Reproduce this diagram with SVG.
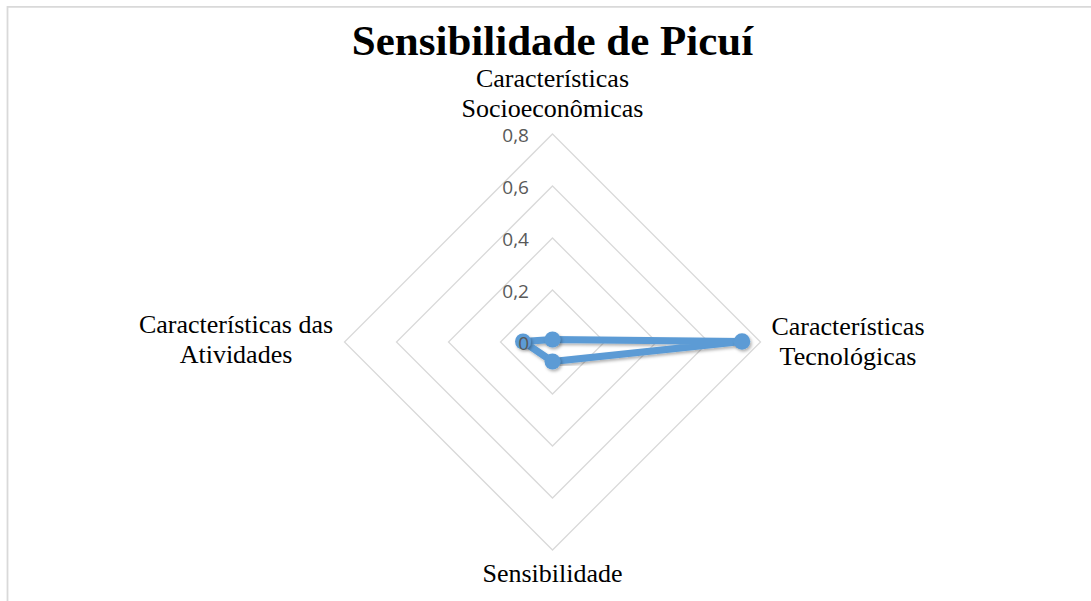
<svg xmlns="http://www.w3.org/2000/svg" width="1091" height="601" viewBox="0 0 1091 601">
<style>
.grid{fill:none;stroke:#D9D9D9;stroke-width:1.3}
.frame{fill:none;stroke:#D9D9D9;stroke-width:1.8}
.title{font-family:"Liberation Serif","Times New Roman",serif;font-weight:bold;font-size:43px;fill:#000;text-anchor:middle}
.cat{font-family:"Liberation Serif","Times New Roman",serif;font-size:26px;fill:#000;text-anchor:middle}
.tick{font-family:"Open Sans","Liberation Sans",Arial,sans-serif;font-size:19px;fill:#595959;text-anchor:end}
.series{fill:none;stroke:#5B9BD5;stroke-width:7;stroke-linejoin:round}
.dot{fill:#5B9BD5}
</style>
<defs>
<filter id="sh" x="-20%" y="-20%" width="140%" height="140%">
<feDropShadow dx="1.5" dy="2" stdDeviation="1.5" flood-color="#000" flood-opacity="0.3"/>
</filter>
</defs>
<path class="frame" d="M7.5,601 V6.8 H1091"/>
<text class="title" x="552.5" y="55">Sensibilidade de Picuí</text>
<g id="grid">
<polygon class="grid" points="552.5,290 604.5,342 552.5,394 500.5,342"/>
<polygon class="grid" points="552.5,238 656.5,342 552.5,446 448.5,342"/>
<polygon class="grid" points="552.5,186 708.5,342 552.5,498 396.5,342"/>
<polygon class="grid" points="552.5,134 760.5,342 552.5,550 344.5,342"/>
</g>
<g id="connectors" filter="url(#sh)">
<polygon class="series" points="552.5,339.5 742,341.5 552.5,361.5 523,341.5"/>
</g>
<g id="points" filter="url(#sh)">
<circle class="dot" cx="552.5" cy="339.5" r="8"/>
<circle class="dot" cx="742" cy="341.5" r="8.3"/>
<circle class="dot" cx="552.5" cy="361.5" r="8"/>
<circle class="dot" cx="523" cy="341.5" r="8"/>
</g>
<g id="ticks">
<text class="tick" x="529" y="142">0,8</text>
<text class="tick" x="529" y="194">0,6</text>
<text class="tick" x="529" y="246">0,4</text>
<text class="tick" x="529" y="298">0,2</text>
<text class="tick" x="529" y="350">0</text>
</g>
<g id="node-socio">
<text class="cat" x="552.5" y="87">Características</text>
<text class="cat" x="552.5" y="117">Socioeconômicas</text>
</g>
<g id="node-tec">
<text class="cat" x="848" y="335">Características</text>
<text class="cat" x="848" y="365">Tecnológicas</text>
</g>
<g id="node-sens">
<text class="cat" x="552.5" y="582">Sensibilidade</text>
</g>
<g id="node-ativ">
<text class="cat" x="236" y="333">Características das</text>
<text class="cat" x="236" y="363">Atividades</text>
</g>
</svg>
